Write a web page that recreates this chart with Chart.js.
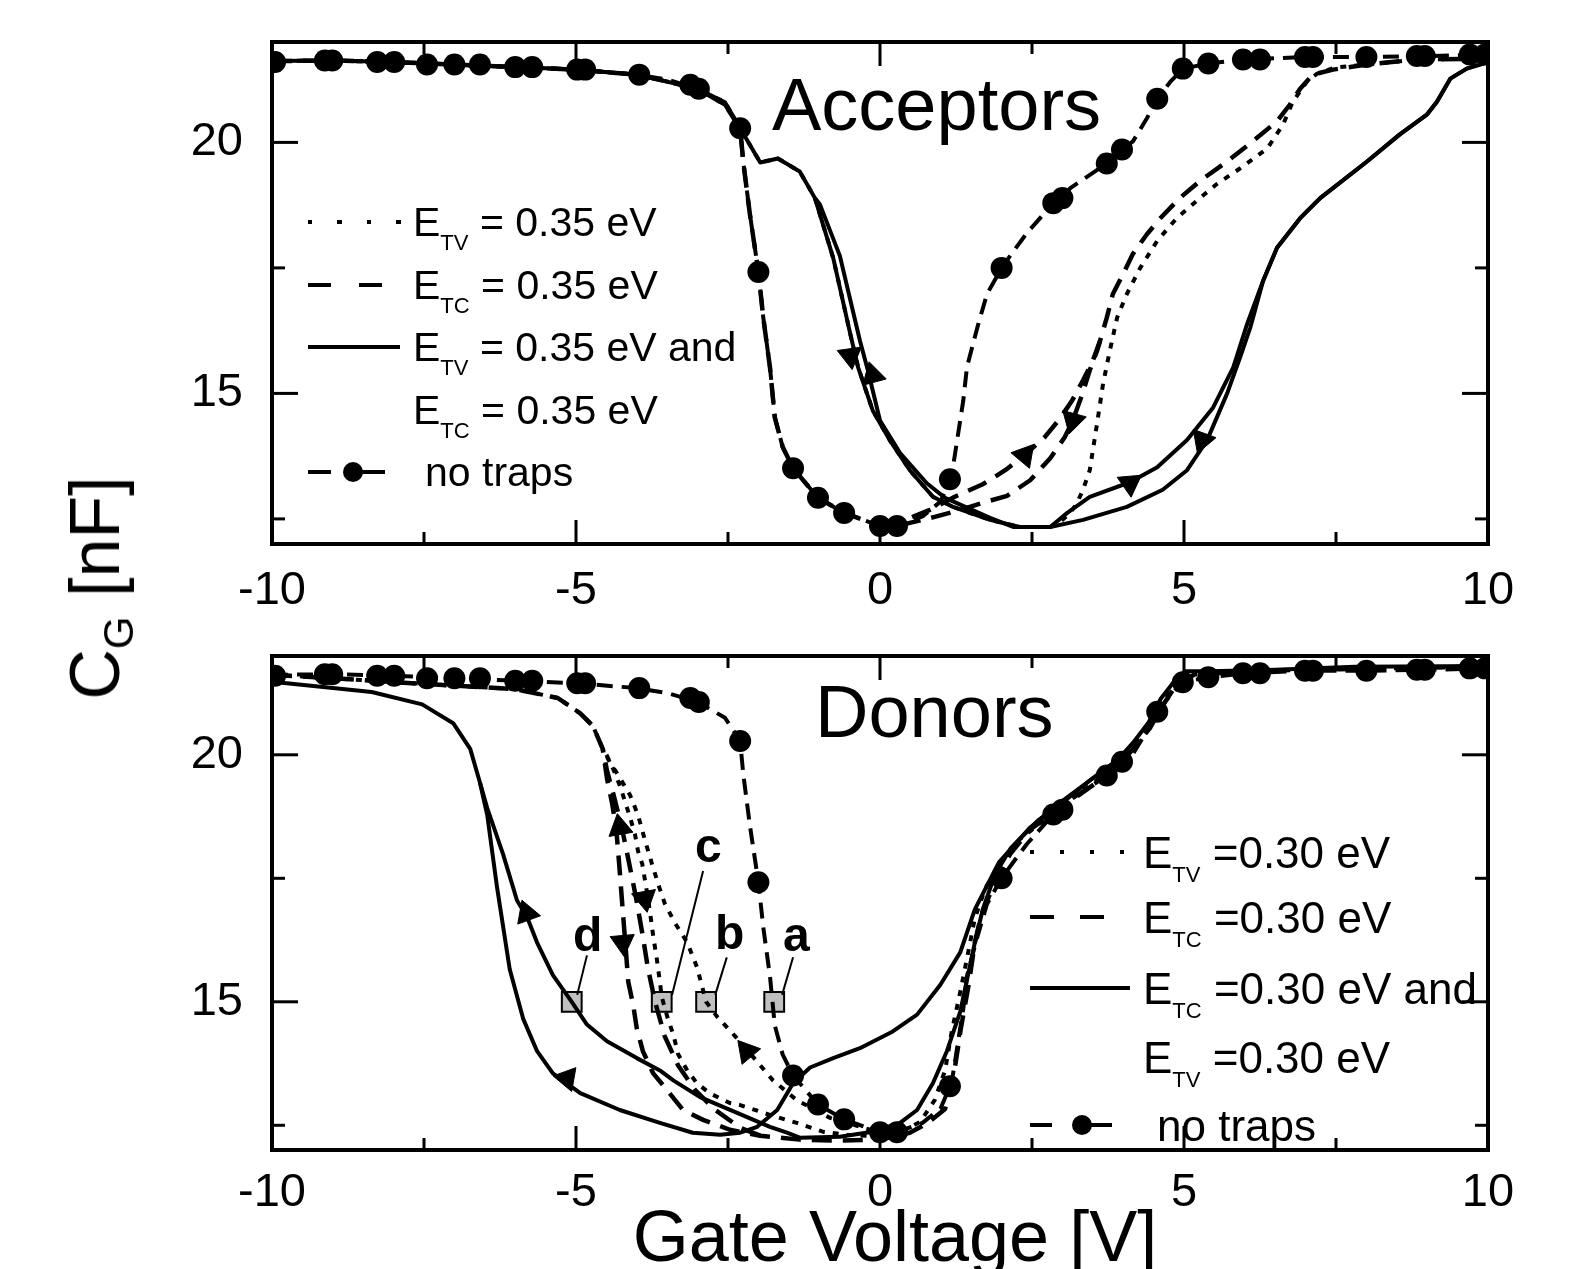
<!DOCTYPE html>
<html><head><meta charset="utf-8">
<script src="https://cdn.jsdelivr.net/npm/chart.js@4.4.1/dist/chart.umd.min.js"></script>
<style>
body{margin:0;background:#fff;}
#wrap{position:relative;width:1569px;height:1269px;overflow:hidden;background:#fff;font-family:"Liberation Sans",Arial,sans-serif;color:#000;}
canvas{position:absolute;left:0;}
.t{position:absolute;white-space:nowrap;line-height:1;}
.sub{font-size:22px;position:relative;top:14px;}
.lb{font-weight:bold;font-size:48px;}
.ln{position:absolute;height:4px;}
.dot{position:absolute;width:20px;height:20px;border-radius:50%;background:#000;}
</style></head><body>
<div id="wrap">
<canvas id="c1" width="1569" height="640" style="top:0"></canvas>
<canvas id="c2" width="1569" height="629" style="top:640px"></canvas>

<div class="t" style="left:772px;top:68px;font-size:74px">Acceptors</div>
<div class="t" style="left:815px;top:675px;font-size:74px">Donors</div>

<!-- top legend -->
<div class="ln" style="left:308px;top:220px;width:94px;background:repeating-linear-gradient(to right,#000 0 4px,transparent 4px 29.5px)"></div>
<div class="ln" style="left:308px;top:283px;width:76px;background:repeating-linear-gradient(to right,#000 0 23px,transparent 23px 51px)"></div>
<div class="ln" style="left:308px;top:345px;width:92px;background:#000"></div>
<div class="ln" style="left:308px;top:470px;width:23px;background:#000"></div>
<div class="ln" style="left:353px;top:470px;width:32px;background:#000"></div>
<div class="dot" style="left:343px;top:462px"></div>
<div class="t" style="left:413px;top:202px;font-size:41px">E<span class="sub">TV</span> = 0.35 eV</div>
<div class="t" style="left:413px;top:265px;font-size:41px">E<span class="sub">TC</span> = 0.35 eV</div>
<div class="t" style="left:413px;top:327px;font-size:41px">E<span class="sub">TV</span> = 0.35 eV and</div>
<div class="t" style="left:413px;top:390px;font-size:41px">E<span class="sub">TC</span> = 0.35 eV</div>
<div class="t" style="left:425px;top:452px;font-size:41px">no traps</div>

<!-- bottom legend -->
<div class="ln" style="left:1030px;top:850px;width:94px;background:repeating-linear-gradient(to right,#000 0 4px,transparent 4px 30px)"></div>
<div class="ln" style="left:1030px;top:915px;width:74px;background:repeating-linear-gradient(to right,#000 0 24px,transparent 24px 50px)"></div>
<div class="ln" style="left:1030px;top:986px;width:100px;background:#000"></div>
<div class="ln" style="left:1030px;top:1123px;width:22px;background:#000"></div>
<div class="ln" style="left:1082px;top:1123px;width:30px;background:#000"></div>
<div class="dot" style="left:1072px;top:1115px"></div>
<div class="t" style="left:1143px;top:831px;font-size:44px">E<span class="sub">TV</span> =0.30 eV</div>
<div class="t" style="left:1143px;top:896px;font-size:44px">E<span class="sub">TC</span> =0.30 eV</div>
<div class="t" style="left:1143px;top:967px;font-size:44px">E<span class="sub">TC</span> =0.30 eV and</div>
<div class="t" style="left:1143px;top:1036px;font-size:44px">E<span class="sub">TV</span> =0.30 eV</div>
<div class="t" style="left:1157px;top:1104px;font-size:44px">no traps</div>

<!-- point labels -->
<div class="t lb" style="left:573px;top:911px">d</div>
<div class="t lb" style="left:695px;top:822px">c</div>
<div class="t lb" style="left:715px;top:909px">b</div>
<div class="t lb" style="left:783px;top:911px">a</div>

<!-- axis titles -->
<div class="t" style="left:895px;top:1200px;font-size:72px;transform:translateX(-50%)">Gate Voltage [V]</div>
<div class="t" style="left:95px;top:588px;font-size:70px;transform:translate(-50%,-50%) rotate(-90deg)">C<span style="font-size:42px;position:relative;top:14px">G</span> [nF]</div>
</div>

<script>
// ---- axes ----
const xMajorTicks = [-10, -5, 0, 5, 10];
const xMinorTicks = [-7.5, -2.5, 2.5, 7.5];
const yMajorTicks = [15, 20];
const yMinorTicks = [12.5, 17.5];

// ---- no traps (same in both panels) ----
const noTrapsLine = [[-10,21.62],[-9,21.63],[-8,21.6],[-7,21.55],[-6,21.5],[-5,21.45],[-4,21.35],[-3.5,21.25],[-3,21.07],[-2.55,20.75],[-2.3,20.28],[-2.25,19.62],[-2.14,18.57],[-2.0,17.42],[-1.92,16.51],[-1.81,15.52],[-1.73,14.52],[-1.6,13.93],[-1.43,13.51],[-1.02,12.92],[-0.59,12.62],[0,12.36],[0.28,12.36],[0.7,12.55],[1.0,12.85],[1.15,13.29],[1.2,13.53],[1.37,14.86],[1.43,15.52],[1.6,16.31],[1.76,16.98],[2.0,17.5],[2.2,17.84],[2.42,18.2],[2.85,18.79],[3.0,18.89],[3.13,19.09],[3.73,19.58],[3.98,19.86],[4.16,20.02],[4.39,20.48],[4.56,20.87],[4.77,21.2],[4.98,21.47],[5.4,21.57],[6.0,21.65],[7.0,21.7],[8.0,21.7],[9.0,21.72],[10,21.75]];
const noTrapsMarks = [[-9.95,21.6],[-9.13,21.63],[-9.01,21.63],[-8.27,21.6],[-7.99,21.6],[-7.45,21.55],[-7.0,21.55],[-6.58,21.55],[-6.0,21.5],[-5.72,21.5],[-4.98,21.45],[-4.85,21.45],[-3.96,21.35],[-3.12,21.15],[-2.98,21.07],[-2.3,20.28],[-2.0,17.42],[-1.43,13.51],[-1.02,12.92],[-0.59,12.62],[0,12.36],[0.28,12.36],[1.15,13.29],[2.0,17.5],[2.85,18.79],[3.0,18.89],[3.73,19.58],[3.98,19.86],[4.56,20.87],[4.98,21.47],[5.4,21.57],[5.97,21.65],[6.25,21.65],[6.99,21.7],[7.12,21.7],[8.0,21.7],[8.83,21.72],[8.96,21.72],[9.7,21.75],[9.95,21.75]];

// ---- Acceptors ----
const accBothA = [[-10,21.62],[-9,21.63],[-8,21.6],[-7,21.55],[-6,21.5],[-5,21.45],[-4,21.35],[-3,21.07],[-2.55,20.8],[-2.3,20.28],[-1.97,19.6],[-1.68,19.68],[-1.32,19.42],[-1.07,18.89],[-0.77,17.7],[-0.49,16.19],[-0.36,15.52],[-0.12,14.66],[0.16,14.07],[0.49,13.47],[0.87,12.94],[1.2,12.74],[1.81,12.48],[2.3,12.34],[2.8,12.34],[3.08,12.62],[3.45,12.94],[4.11,13.23],[4.56,13.53],[5.05,14.07],[5.48,14.72],[5.81,15.52],[6.04,16.39],[6.30,17.24],[6.53,17.90],[6.91,18.49],[7.24,18.89],[8.01,19.62],[8.55,20.16],[9.0,20.56],[9.16,20.81],[9.38,21.27],[9.65,21.47],[9.92,21.57],[10,21.6]];
const accBothB = [[10,21.6],[9.92,21.57],[9.65,21.47],[9.38,21.27],[9.16,20.81],[9.0,20.56],[8.55,20.16],[8.01,19.62],[7.24,18.89],[6.91,18.49],[6.53,17.90],[6.30,17.24],[6.09,16.31],[5.92,15.71],[5.71,15.0],[5.38,14.07],[5.05,13.47],[4.65,13.08],[4.06,12.74],[3.34,12.48],[2.80,12.34],[2.19,12.34],[1.81,12.52],[1.07,12.92],[0.77,13.21],[0.33,13.81],[0,14.46],[-0.2,15.46],[-0.33,16.05],[-0.66,17.74],[-0.99,18.77],[-1.07,18.89]];
const accTc = [[-10,21.62],[-9,21.63],[-8,21.6],[-7,21.55],[-6,21.5],[-5,21.45],[-4,21.35],[-3,21.07],[-2.55,20.75],[-2.3,20.28],[-2.25,19.62],[-2.14,18.57],[-2.0,17.42],[-1.92,16.51],[-1.81,15.52],[-1.73,14.52],[-1.6,13.93],[-1.43,13.51],[-1.02,12.92],[-0.59,12.62],[0,12.36],[0.28,12.36],[0.49,12.42],[0.90,12.54],[1.32,12.68],[1.69,12.82],[2.09,12.96],[2.47,13.27],[2.80,13.71],[3.04,14.13],[3.17,14.46],[3.32,14.96],[3.45,15.46],[3.57,15.85],[3.62,16.05],[3.73,16.51],[3.83,16.98],[4.0,17.38],[4.16,17.78],[4.39,18.17],[4.61,18.49],[4.93,18.89],[5.26,19.23],[5.71,19.62],[6.13,20.02],[6.53,20.42],[6.74,20.75],[6.91,21.07],[7.12,21.35],[7.45,21.45],[8.01,21.55],[8.83,21.65],[10,21.67]];
const accTcReturn = [[3.62,16.05],[3.50,15.65],[3.34,15.26],[3.16,14.86],[2.96,14.50],[2.71,14.13],[2.38,13.77],[2.06,13.47],[1.69,13.19],[1.23,12.94],[0.82,12.68],[0.41,12.48],[0.16,12.38],[0,12.36]];
const accTv = [[-10,21.62],[-9,21.63],[-8,21.6],[-7,21.55],[-6,21.5],[-5,21.45],[-4,21.35],[-3,21.07],[-2.55,20.8],[-2.3,20.28],[-1.97,19.6],[-1.68,19.68],[-1.32,19.42],[-1.07,18.89],[-0.77,17.7],[-0.49,16.19],[-0.36,15.52],[-0.12,14.66],[0.16,14.07],[0.49,13.47],[0.87,12.94],[1.2,12.74],[1.81,12.48],[2.3,12.34],[2.8,12.34],[2.96,12.44],[3.13,12.62],[3.24,12.82],[3.34,13.08],[3.45,13.47],[3.57,14.40],[3.67,15.2],[3.78,15.85],[3.90,16.51],[4.06,16.98],[4.28,17.5],[4.56,18.04],[4.88,18.49],[5.26,18.89],[5.54,19.17],[5.92,19.48],[6.37,19.88],[6.63,20.36],[6.79,20.81],[7.02,21.21],[7.19,21.37],[7.48,21.49],[8.01,21.55],[8.83,21.65],[10,21.67]];
const accArrows = [[-0.49,15.75],[-0.12,15.36],[2.38,13.77],[3.17,14.46],[4.11,13.21],[5.30,14.07]];
const accArrowAngles = [172,345,280,75,175,200];

// ---- Donors ----
const donBothDown = [[10,21.8],[7.81,21.78],[6.51,21.72],[5.41,21.69],[5.02,21.69],[4.88,21.55],[4.62,21.14],[4.42,20.66],[4.16,20.24],[3.91,19.90],[3.45,19.48],[2.93,18.96],[2.60,18.67],[2.15,18.11],[1.89,17.57],[1.69,16.87],[1.56,16.20],[1.32,14.80],[1.10,14.0],[0.87,13.35],[0.61,12.81],[0.33,12.55],[-0.12,12.37],[-0.66,12.27],[-1.32,12.25],[-1.53,12.35],[-1.81,12.47],[-2.35,12.75],[-2.96,13.07],[-3.40,13.41],[-3.62,13.61],[-4.0,13.86],[-4.49,14.20],[-4.82,14.54],[-5.07,15.0],[-5.38,15.54],[-5.64,16.20],[-5.81,16.73],[-5.97,17.05],[-6.20,17.99],[-6.46,18.92],[-6.58,19.44],[-6.74,20.12],[-7.02,20.64],[-7.53,21.02],[-8.36,21.27],[-10,21.48]];
const donBothUp = [[-6.58,19.44],[-6.46,18.78],[-6.30,17.33],[-6.09,15.66],[-5.87,14.66],[-5.64,14.0],[-5.38,13.55],[-5.15,13.35],[-4.93,13.15],[-4.28,12.81],[-3.62,12.55],[-3.08,12.35],[-2.63,12.31],[-2.30,12.35],[-2.02,12.47],[-1.69,12.81],[-1.43,13.35],[-1.15,13.67],[-0.77,13.86],[-0.33,14.06],[0.21,14.40],[0.61,14.74],[0.99,15.34],[1.32,16.0],[1.56,16.87],[1.96,17.83],[2.47,18.53],[2.93,19.0],[3.45,19.48],[3.91,19.90]];
const donTc = [[-10,21.62],[-9,21.55],[-8,21.47],[-7,21.4],[-6,21.33],[-5.3,21.15],[-4.93,20.84],[-4.72,20.58],[-4.56,20.12],[-4.49,19.52],[-4.41,19.04],[-4.34,18.53],[-4.29,17.79],[-4.24,16.99],[-4.19,16.20],[-4.14,15.40],[-4.06,14.94],[-4.0,14.46],[-3.90,14.0],[-3.73,13.55],[-3.50,13.21],[-3.24,12.81],[-2.91,12.61],[-2.47,12.41],[-1.97,12.29],[-1.32,12.21],[-0.66,12.19],[0,12.21],[0.49,12.35],[0.79,12.55],[1.07,12.83],[1.23,13.65],[1.33,14.46],[1.46,15.36],[1.56,16.20],[1.66,16.73],[1.89,17.43],[2.14,17.99],[2.47,18.49],[2.93,18.88],[3.45,19.34],[3.91,19.74],[4.44,20.54],[4.61,20.92],[4.88,21.43],[5.18,21.63],[6.51,21.71],[10,21.79]];
const donTcReturn = [[-1.97,12.29],[-2.30,12.45],[-2.71,12.81],[-3.04,13.21],[-3.32,13.71],[-3.54,14.30],[-3.70,15.0],[-3.82,15.70],[-3.91,16.39],[-4.01,17.09],[-4.14,17.89],[-4.24,18.49],[-4.38,19.18],[-4.49,19.68],[-4.56,20.12]];
const donTv = [[-10,21.62],[-9,21.55],[-8,21.47],[-7,21.4],[-6,21.33],[-5.3,21.15],[-4.93,20.84],[-4.72,20.58],[-4.56,20.12],[-4.49,19.98],[-4.39,19.72],[-4.28,19.38],[-4.19,19.04],[-4.11,18.73],[-4.03,18.39],[-3.98,18.05],[-3.91,17.79],[-3.83,17.2],[-3.78,16.79],[-3.73,16.33],[-3.67,15.86],[-3.62,15.40],[-3.59,15.1],[-3.49,14.66],[-3.40,14.34],[-3.32,13.94],[-3.17,13.61],[-3.01,13.35],[-2.80,13.15],[-2.47,12.95],[-2.30,12.91],[-1.81,12.71],[-1.37,12.55],[-0.94,12.37],[-0.54,12.31],[0,12.27],[0.33,12.35],[0.66,12.57],[0.9,13.01],[1.07,13.61],[1.18,14.40],[1.32,15.2],[1.45,16.0],[1.56,16.69],[1.73,17.29],[1.94,17.75],[2.30,18.29],[2.93,18.9],[3.45,19.38],[3.91,19.78],[4.44,20.58],[4.61,20.98],[4.88,21.47],[5.18,21.65],[6.51,21.71],[10,21.79]];
const donTvReturn = [[0.33,12.35],[-0.16,12.41],[-0.82,12.65],[-1.37,13.01],[-1.76,13.41],[-2.14,13.96],[-2.38,14.30],[-2.68,14.70],[-2.86,15.0],[-3.01,15.70],[-3.17,16.2],[-3.37,16.59],[-3.54,16.99],[-3.65,17.39],[-3.75,17.79],[-3.87,18.29],[-3.98,18.78],[-4.11,19.18],[-4.28,19.54],[-4.44,19.84],[-4.56,20.12]];
const donArrows = [[-5.15,13.45],[-5.81,16.79],[-4.28,18.53],[-4.23,16.20],[-3.87,17.09],[-2.19,14.0]];
const donArrowAngles = [160,340,350,175,170,320];
const donSquares = [[-5.07,15.0],[-3.59,15.0],[-2.86,15.0],[-1.74,15.0]];
const donLeaders = [
  [[-4.98,15.14],[-4.82,15.94]],
  [[-3.42,15.14],[-2.91,17.65]],
  [[-2.71,15.14],[-2.52,15.90]],
  [[-1.61,15.14],[-1.43,15.90]]
];

// ---- helpers ----
const FONT = '"Liberation Sans", Arial, sans-serif';
const pts = a => a.map(p => ({x: p[0], y: p[1]}));
const DASH_TC = [20, 11], DOT_TV = [6, 8], DASH_NT = [16, 9];
function lineDs(arr, dash, width) {
  return {data: pts(arr), showLine: true, borderColor: '#000', borderWidth: width, borderDash: dash,
          borderCapStyle: 'butt', borderJoinStyle: 'round', pointRadius: 0, fill: false, tension: 0};
}
function markDs(arr) {
  return {data: pts(arr), showLine: false, pointRadius: 11, pointBackgroundColor: '#000', pointBorderWidth: 0};
}
function arrowDs(arr, angles) {
  return {data: pts(arr), showLine: false, pointStyle: 'triangle', pointRadius: 14, pointRotation: angles,
          pointBackgroundColor: '#000', pointBorderColor: '#000', pointBorderWidth: 1};
}

const frame = {
  id: 'frame',
  afterDatasetsDraw(chart) {
    const {ctx, chartArea: a} = chart;
    const x = chart.scales.x, y = chart.scales.y;
    ctx.save();
    ctx.strokeStyle = '#000';
    ctx.lineCap = 'butt';
    const seg = (x1, y1, x2, y2) => { ctx.beginPath(); ctx.moveTo(x1, y1); ctx.lineTo(x2, y2); ctx.stroke(); };
    ctx.lineWidth = 3;
    const xt = (vals, len) => vals.forEach(v => { const p = x.getPixelForValue(v); seg(p, a.bottom, p, a.bottom - len); seg(p, a.top, p, a.top + len); });
    const yt = (vals, len) => vals.forEach(v => { const p = y.getPixelForValue(v); seg(a.left, p, a.left + len, p); seg(a.right, p, a.right - len, p); });
    xt(xMajorTicks, 24); xt(xMinorTicks, 12);
    yt(yMajorTicks, 26); yt(yMinorTicks, 13);
    ctx.lineWidth = 4;
    ctx.strokeRect(a.left, a.top, a.right - a.left, a.bottom - a.top);
    ctx.restore();
  }
};

function makeChart(id, datasets, padTop, xAxisH, tickPad) {
  return new Chart(document.getElementById(id), {
    type: 'scatter',
    data: {datasets},
    plugins: [frame],
    options: {
      responsive: false, devicePixelRatio: 1, animation: false, events: [],
      layout: {padding: {top: padTop, right: 81, left: 0, bottom: 0}},
      plugins: {legend: {display: false}, tooltip: {enabled: false}},
      scales: {
        x: {type: 'linear', min: -10, max: 10,
            afterFit: s => { s.height = xAxisH; s.paddingLeft = 0; s.paddingRight = 0; },
            afterBuildTicks: s => { s.ticks = xMajorTicks.map(v => ({value: v})); },
            grid: {display: false, drawTicks: false}, border: {display: false},
            ticks: {color: '#000', font: {family: FONT, size: 47}, padding: tickPad, maxRotation: 0, autoSkip: false}},
        y: {type: 'linear', min: 12, max: 22,
            afterFit: s => { s.width = 272; s.paddingTop = 0; s.paddingBottom = 0; },
            afterBuildTicks: s => { s.ticks = yMajorTicks.map(v => ({value: v})); },
            grid: {display: false, drawTicks: false}, border: {display: false},
            ticks: {color: '#000', font: {family: FONT, size: 47}, padding: 29, autoSkip: false}}
      }
    }
  });
}

const topSets = [
  lineDs(accBothA, [], 4),
  lineDs(accBothB, [], 4),
  lineDs(accTc, DASH_TC, 4.5),
  lineDs(accTcReturn, DASH_TC, 4.5),
  lineDs(accTv, DOT_TV, 4),
  lineDs(noTrapsLine, DASH_NT, 4),
  markDs(noTrapsMarks),
  arrowDs(accArrows, accArrowAngles)
];
makeChart('c1', topSets, 42, 96, 19);

const botSets = [
  lineDs(donBothDown, [], 4),
  lineDs(donBothUp, [], 4),
  lineDs(donTc, DASH_TC, 4.5),
  lineDs(donTcReturn, DASH_TC, 4.5),
  lineDs(donTv, DOT_TV, 4),
  lineDs(donTvReturn, DOT_TV, 4),
  lineDs(noTrapsLine, DASH_NT, 4),
  markDs(noTrapsMarks),
  arrowDs(donArrows, donArrowAngles),
  ...donLeaders.map(l => lineDs(l, [], 2)),
  {data: pts(donSquares), showLine: false, pointStyle: 'rect', pointRadius: 14,
   pointBackgroundColor: '#c0c0c0', pointBorderColor: '#000', pointBorderWidth: 2}
];
makeChart('c2', botSets, 5, 119, 15);
</script>
</body></html>
